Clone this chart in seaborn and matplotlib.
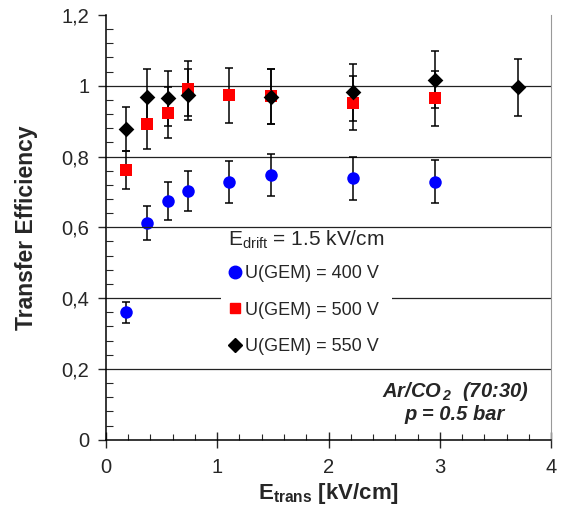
import numpy as np
import pandas as pd
import matplotlib
matplotlib.use('Agg')
import matplotlib.pyplot as plt
from matplotlib.ticker import MultipleLocator, FuncFormatter
from matplotlib.lines import Line2D
import seaborn as sns

# Данные: E_trans [kV/cm] и эффективность переноса
e_400 = [0.185, 0.37, 0.555, 0.74, 1.11, 1.48, 2.22, 2.96]
eff_400 = [0.360, 0.611, 0.675, 0.703, 0.729, 0.748, 0.738, 0.729]
err_400 = [0.030, 0.048, 0.053, 0.057, 0.059, 0.060, 0.060, 0.060]

e_500 = [0.185, 0.37, 0.555, 0.74, 1.11, 1.48, 2.22, 2.96]
eff_500 = [0.762, 0.892, 0.924, 0.991, 0.973, 0.970, 0.951, 0.964]
err_500 = [0.053, 0.071, 0.073, 0.078, 0.078, 0.078, 0.076, 0.077]

e_550 = [0.185, 0.37, 0.555, 0.74, 1.48, 2.22, 2.96, 3.70]
eff_550 = [0.877, 0.969, 0.964, 0.974, 0.969, 0.981, 1.017, 0.995]
err_550 = [0.062, 0.078, 0.077, 0.072, 0.078, 0.080, 0.081, 0.080]

labels = ['U(GEM) = 400 V', 'U(GEM) = 500 V', 'U(GEM) = 550 V']
colors = ['#0000ff', '#ff0000', '#000000']
markers = ['o', 's', 'D']
sizes = [9, 8, 8]

series = [(e_400, eff_400, err_400), (e_500, eff_500, err_500), (e_550, eff_550, err_550)]
data = pd.concat([pd.DataFrame({'E': e, 'eff': y, 'err': er, 'U': lab})
                  for (e, y, er), lab in zip(series, labels)], ignore_index=True)

sns.set_style('white')
plt.rcParams['font.family'] = ['Liberation Sans', 'DejaVu Sans']
plt.rcParams['mathtext.fontset'] = 'custom'
plt.rcParams['mathtext.rm'] = 'Liberation Sans'
plt.rcParams['mathtext.it'] = 'Liberation Sans:italic'
plt.rcParams['mathtext.bf'] = 'Liberation Sans:bold'
plt.rcParams['mathtext.bfit'] = 'Liberation Sans:bold:italic'

fig = plt.figure(figsize=(5.63, 5.12), dpi=100)
ax = fig.add_axes([0.188, 0.141, 0.791, 0.830])

# линии сетки (0,6 поверх легенды, как на оригинале)
for yv in [0.2, 0.4, 0.6, 0.8, 1.0]:
    ax.axhline(yv, color='#222222', lw=0.9, zorder=6 if yv == 0.6 else 1)

for lab in labels:
    d = data[data['U'] == lab]
    ax.errorbar(d['E'], d['eff'], yerr=d['err'], fmt='none', ecolor='black',
                elinewidth=1.1, capsize=3, capthick=1.1, zorder=3)

for lab, col, mk, ms in zip(labels, colors, markers, sizes):
    d = data[data['U'] == lab]
    sns.scatterplot(data=d, x='E', y='eff', ax=ax, color=col, marker=mk,
                    s=ms ** 2, edgecolor=col, linewidth=0, zorder=4, legend=False)

ax.set_xlim(0, 4)
ax.set_ylim(0, 1.2)
ax.xaxis.set_major_locator(MultipleLocator(1))
ax.xaxis.set_minor_locator(MultipleLocator(0.2))
ax.yaxis.set_major_locator(MultipleLocator(0.2))
ax.yaxis.set_minor_locator(MultipleLocator(0.04))
ax.yaxis.set_major_formatter(FuncFormatter(lambda v, p: f'{v:.1f}'.rstrip('0').rstrip('.').replace('.', ',')))
ax.xaxis.set_major_formatter(FuncFormatter(lambda v, p: f'{v:g}'))

ax.tick_params(axis='x', which='major', direction='inout', length=12, width=1, labelsize=14.5, pad=7, bottom=True)
ax.tick_params(axis='x', which='minor', direction='in', length=4, width=0.8, bottom=True)
ax.tick_params(axis='y', which='major', direction='out', length=6, width=1, labelsize=14.5, pad=6, left=True)
ax.tick_params(axis='y', which='minor', direction='in', length=5, width=0.8, left=True)

ax.spines['top'].set_visible(False)
ax.spines['right'].set_color('#999999')
for s in ['left', 'bottom']:
    ax.spines[s].set_color('black')
    ax.spines[s].set_linewidth(1.1)

ax.set_xlabel(r'$\mathbf{E}_{\mathbf{trans}}$ [kV/cm]', fontsize=16, fontweight='bold', labelpad=3)
ax.set_ylabel('Transfer Efficiency', fontsize=16.5, fontweight='bold', labelpad=17)

handles = [Line2D([], [], ls='none', marker=mk, color=col, markersize=ms)
           for col, mk, ms in zip(colors, markers, [9, 7.5, 7])]
leg = ax.legend(handles, labels, title=r'E$_{\mathrm{drift}}$ = 1.5 kV/cm', loc='upper left',
                bbox_to_anchor=(0.258, 0.513), frameon=True, fontsize=13, title_fontsize=15,
                labelspacing=1.08, handletextpad=0.15, handlelength=0.8, borderpad=0.4,
                borderaxespad=0, fancybox=False)
leg._legend_box.align = 'left'
leg._legend_box.sep = 10
leg.get_frame().set_facecolor('white')
leg.get_frame().set_edgecolor('none')
leg.get_frame().set_alpha(1)
leg.set_zorder(5)

ax.text(0.784, 0.113, r'Ar/CO$_{\,\mathbfit{2}}$  (70:30)', transform=ax.transAxes, ha='center', va='center',
        fontsize=14.5, fontweight='bold', fontstyle='italic')
ax.text(0.784, 0.059, 'p = 0.5 bar', transform=ax.transAxes, ha='center', va='center',
        fontsize=14.5, fontweight='bold', fontstyle='italic')

fig.savefig('out.png', dpi=100)
